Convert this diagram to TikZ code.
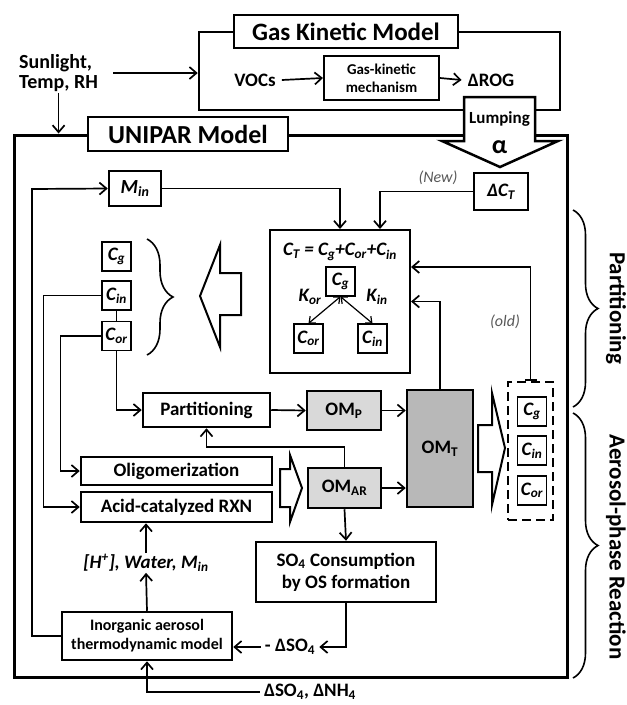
\documentclass[tikz,border=0pt]{standalone}
\usepackage{fontspec}
\setmainfont{Carlito}
\usetikzlibrary{arrows.meta,decorations.pathreplacing}
\newcommand\fs[2]{\fontsize{#1}{#2}\selectfont}

\begin{document}
\begin{tikzpicture}[x=1pt, y=-1pt,
    box/.style={draw, line width=2.5pt, fill=white, inner sep=0pt, align=center, font={\bfseries\fs{19}{22}}},
    cbox/.style={draw, line width=1.2pt, fill=white, inner sep=0pt, minimum width=29pt, minimum height=29pt, font={\bfseries\itshape\fs{19}{22}}},
    lbl/.style={inner sep=1pt, align=center, font={\bfseries\fs{19}{22}}},
    ital/.style={lbl, font={\bfseries\itshape\fs{19}{22}}},
    note/.style={inner sep=1pt, text=black!65, font={\itshape\fs{16}{18}}},
    arr/.style={line width=1.7pt, -{Straight Barb[length=7pt, width=12pt]}},
    darr/.style={line width=1.2pt, {Straight Barb[length=5pt, width=9pt]}-{Straight Barb[length=5pt, width=9pt]}},
    conn/.style={line width=1.7pt},
    hollow/.style={draw, line width=2pt, fill=white, line join=miter},
    brc/.style={decorate, decoration={brace, amplitude=#1}, line width=1.6pt}]
    \useasboundingbox (0,0) rectangle (627,705);

    % gas kinetic model
    \node[box, minimum width=361, minimum height=78] (gas) at (379.5,71) {};
    \node[box, minimum width=224, minimum height=33, font={\bfseries\fs{25}{28}}] (gasttl) at (346,31.5) {Gas Kinetic Model};
    \node[lbl, anchor=west, align=left, font={\bfseries\fs{20}{20}}] (sun) at (18,73) {Sunlight,\\Temp, RH};
    \node[lbl, inner sep=6pt] (voc) at (255,80) {VOCs};
    \node[box, line width=2pt, minimum width=115, minimum height=44, font={\bfseries\fs{15}{18}}] (mech) at (381.5,78) {Gas-kinetic\\mechanism};
    \node[lbl, inner sep=6pt] (rog) at (491,80) {ΔROG};
    \draw[arr, shorten <=14pt] (sun.east) -- (sun.east -| gas.west);
    \draw[arr] (voc.east) -- (mech.west);
    \draw[arr] (mech.east) -- (rog.west);

    % unipar model
    \node[box, line width=3pt, minimum width=553, minimum height=542] (unipar) at (290.5,406) {};
    \node[box, minimum width=200, minimum height=34, font={\bfseries\fs{26}{28}}] (unittl) at (188,134) {UNIPAR Model};
    \draw[arr] (sun.south) -- (sun.south |- unipar.north);
    \draw[hollow, line width=2.5pt] (464,97) -- (535,97) -- (535,141) -- (558,141) -- (500,167) -- (442,141) -- (464,141) -- cycle;
    \node[lbl, font={\bfseries\fs{17}{20}}] (lump) at (499.5,119) {Lumping};
    \node[lbl, font={\bfseries\fs{26}{28}}] (alpha) at (499.5,147) {α};

    % partitioning part
    \node[box, minimum width=52, minimum height=35, font={\bfseries\itshape\fs{20}{22}}] (min) at (135,188.5) {M\textsubscript{in}};
    \node[cbox] (cgl) at (116.5,256.5) {C\textsubscript{g}};
    \node[cbox] (cinl) at (116.5,295.5) {C\textsubscript{in}};
    \node[cbox] (corl) at (116.5,336) {C\textsubscript{or}};
    \draw[conn] (cinl.south) -- (corl.north);
    \draw[brc=26pt] (147,239) -- (147,355);
    \draw[hollow] (241,273) -- (220,273) -- (220,245) -- (200,296) -- (220,347) -- (220,315) -- (241,315) -- cycle;

    \node[box, line width=2pt, minimum width=140, minimum height=143] (ct) at (340,301.5) {};
    \node[ital] (ctf) at (340,252) {C\textsubscript{T} = C\textsubscript{g}+C\textsubscript{or}+C\textsubscript{in}};
    \node[cbox] (cgi) at (340.5,281.5) {C\textsubscript{g}};
    \node[cbox] (cori) at (308.5,338.5) {C\textsubscript{or}};
    \node[cbox] (cini) at (372.5,338.5) {C\textsubscript{in}};
    \node[ital] (kor) at (310,297) {K\textsubscript{or}};
    \node[ital] (kin) at (377,297) {K\textsubscript{in}};
    \draw[darr] (cgi.south) -- (cori.north);
    \draw[darr] (cgi.south) -- (cini.north);

    \node[box, line width=2pt, minimum width=54, minimum height=37, font={\bfseries\itshape\fs{19}{22}}] (dct) at (501,191.5) {ΔC\textsubscript{T}};
    \node[note] (new) at (438,178) {(New)};
    \node[note] (old) at (505,322) {(old)};
    \draw[arr] (min.east) -| (ct.north);
    \draw[arr] (dct.west) -| ([xshift=40pt]ct.north);

    % aerosol-phase part
    \node[box, minimum width=127, minimum height=34] (part) at (206.5,410) {Partitioning};
    \node[box, fill=black!15, minimum width=74, minimum height=39] (omp) at (344,410.5) {OM\textsubscript{P}};
    \node[box, fill=black!28, minimum width=66, minimum height=117] (omt) at (440,448.5) {OM\textsubscript{T}};
    \node[box, fill=black!15, minimum width=73, minimum height=40] (omar) at (344.5,488) {OM\textsubscript{AR}};
    \node[box, minimum width=191, minimum height=28] (olig) at (176.5,471) {Oligomerization};
    \node[box, minimum width=191, minimum height=30] (acid) at (176.5,507) {Acid-catalyzed RXN};
    \draw[hollow] (280,469) -- (290,469) -- (290,455) -- (302,488) -- (290,522) -- (290,507) -- (280,507) -- cycle;

    \node[draw, line width=2.5pt, dash pattern=on 9pt off 5pt, minimum width=45, minimum height=138] (dash) at (530.5,451) {};
    \node[cbox] (cgr) at (532,411.5) {C\textsubscript{g}};
    \node[cbox] (cinr) at (532,450.5) {C\textsubscript{in}};
    \node[cbox] (corr) at (532,490.5) {C\textsubscript{or}};
    \draw[hollow] (478,425) -- (492,425) -- (492,393) -- (505,448) -- (492,505) -- (492,472) -- (478,472) -- cycle;

    \node[ital] (hwm) at (146,563) {[H\textsuperscript{+}], Water, M\textsubscript{in}};
    \node[box, minimum width=170, minimum height=48, font={\bfseries\fs{16}{19}}] (inorg) at (147,636) {Inorganic aerosol\\thermodynamic model};
    \node[box, minimum width=180, minimum height=60] (so4) at (346,572) {SO\textsubscript{4} Consumption\\by OS formation};
    \node[lbl, inner sep=4pt] (mdso) at (290,647) {- ΔSO\textsubscript{4}};
    \node[lbl, inner sep=4pt] (dso) at (310,692) {ΔSO\textsubscript{4}, ΔNH\textsubscript{4}};
    \coordinate (lp) at (32,189);

    \draw[arr] (corl.south) |- (part.west);
    \draw[arr] (part.east) -- (omp.west);
    \draw[arr] (omp.east) -- (omp.east -| omt.west);
    \draw[arr] (omar.east) -- (omar.east -| omt.west);
    \draw[arr] (omar.north) -- ++(0,-20) -| (part.south);
    \draw[arr] (omt.north) |- (ct.east);
    \draw[line width=1.7pt, {Bar[width=12pt]}-{Straight Barb[length=7pt, width=12pt]}] (dash.north) |- ([yshift=34.5pt]ct.east);
    \draw[arr] (cinl.west) -- ++(-58,0) |- (acid.west);
    \draw[arr] (corl.west) -- ++(-41,0) |- (olig.west);
    \draw[arr] (hwm.north) -- (hwm.north |- acid.south);
    \draw[arr] (inorg.north) -- (hwm.south);
    \draw[arr] (inorg.west) -| (lp) -- (min.west);
    \draw[arr] (omar.south) -- (so4.north);
    \draw[arr] (so4.south) |- (mdso.east);
    \draw[arr] (mdso.west) -- (mdso.west -| inorg.east);
    \draw[arr] (dso.west) -| (inorg.south);

    % side braces
    \draw[brc=25pt] (573,210) -- (573,407);
    \draw[brc=25pt] (573,413) -- (573,678);
    \node[lbl, rotate=-90, font={\bfseries\fs{23}{26}}] (ptxt) at (616,308) {Partitioning};
    \node[lbl, rotate=-90, font={\bfseries\fs{23}{26}}] (atxt) at (616,547) {Aerosol-phase Reaction};
\end{tikzpicture}
\end{document}
